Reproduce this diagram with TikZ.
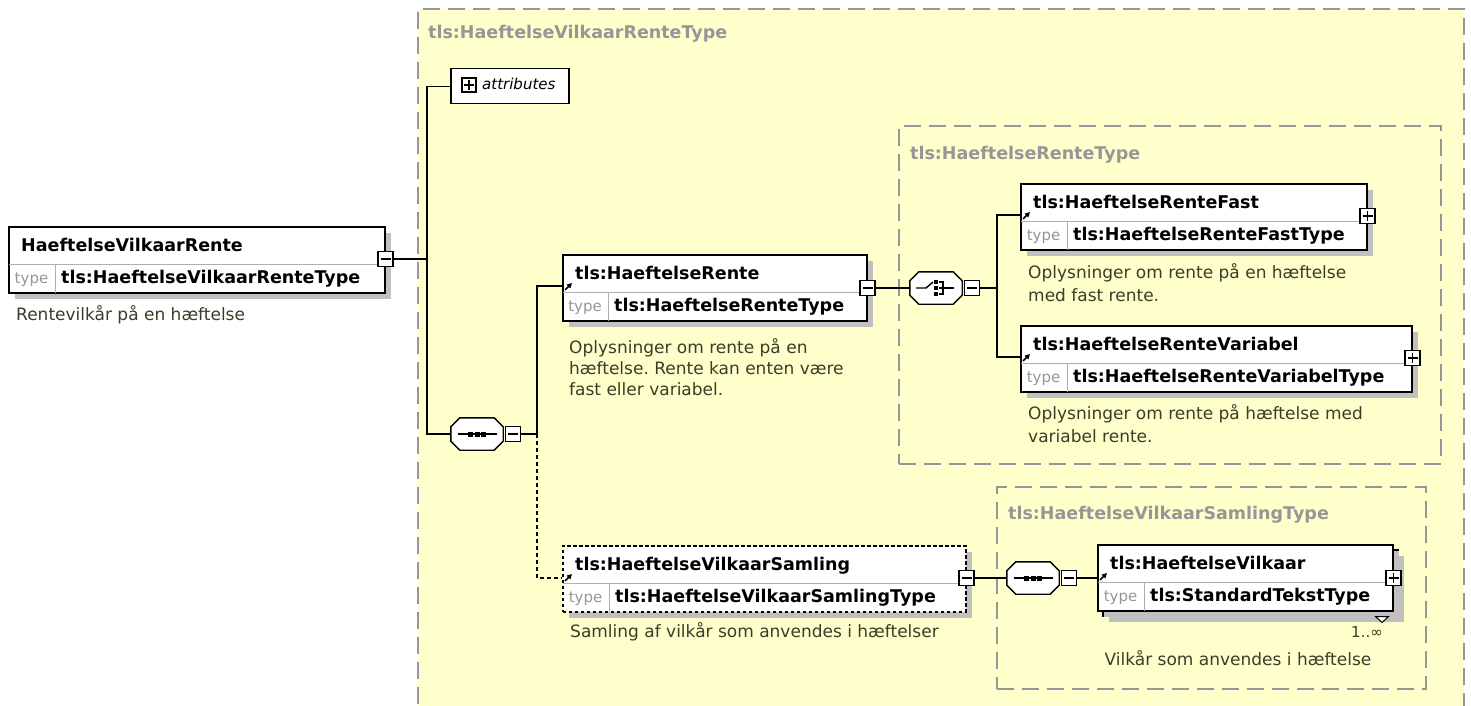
\documentclass[tikz,border=0pt]{standalone}
\usepackage{fontspec}
\setmainfont{DejaVu Sans}
\usetikzlibrary{calc,shadows,arrows.meta}
\frenchspacing
\definecolor{bgyellow}{RGB}{255,255,204}
\definecolor{grpgray}{RGB}{150,150,150}
\definecolor{desccol}{RGB}{60,60,40}
\definecolor{shadowgray}{RGB}{192,192,192}
\definecolor{divgray}{RGB}{175,175,175}
\definecolor{typegray}{RGB}{150,150,150}

\newcommand\xelem[8]{%
  \node[elem,#8,minimum width=#4pt] (#1) at (#2,#3) {};
  \draw[divline] ($(#1.north west)+(1,38)$) -- ($(#1.north east)+(-1,38)$);
  \draw[divline] ($(#1.north west)+(#5,38)$) -- ($(#1.south west)+(#5,-1)$);
  \node[titletext] (#1-title) at ($(#1.north west)+(13,25)$) {#6};
  \node[typelbl] (#1-tl) at ($(#1.north west)+(#5/2,57)$) {type};
  \node[typetext] (#1-type) at ($(#1.north west)+(#5+6,57)$) {#7};
}
\newcommand\refarrow[1]{\draw[refarr] ($(#1.north west)+(3,36)$) -- ($(#1.north west)+(10,29)$);}
\newcommand\minusbtn[2]{\node[btn] (#1) at #2 {};
  \draw[btnline] ($(#1.center)+(-5,0)$) -- ($(#1.center)+(5,0)$);}
\newcommand\plusbtn[2]{\node[btn] (#1) at #2 {};
  \draw[btnline] ($(#1.center)+(-5,0)$) -- ($(#1.center)+(5,0)$)
                 ($(#1.center)+(0,-5)$) -- ($(#1.center)+(0,5)$);}
\newcommand\octpath[1]{($(#1.north west)+(9,0)$) -- ($(#1.north east)+(-9,0)$) -- ($(#1.north east)+(0,9)$) -- ($(#1.south east)+(0,-9)$) -- ($(#1.south east)+(-9,0)$) -- ($(#1.south west)+(9,0)$) -- ($(#1.south west)+(0,-9)$) -- ($(#1.north west)+(0,9)$) -- cycle}
\newcommand\compo[3]{%
  \node[inner sep=0pt, minimum width=52pt, minimum height=32pt] (#1) at (#2,#3) {};
  \fill[shadowgray, shift={(6,6)}] \octpath{#1};
  \draw[compobord] \octpath{#1};
}
\newcommand\seqicon[1]{%
  \draw[iconline] ($(#1.center)+(-19,0)$) -- ($(#1.center)+(20,0)$);
  \fill ($(#1.center)+(-9,-2.5)$) rectangle ($(#1.center)+(-4,2.5)$);
  \fill ($(#1.center)+(-2.5,-2.5)$) rectangle ($(#1.center)+(2.5,2.5)$);
  \fill ($(#1.center)+(4,-2.5)$) rectangle ($(#1.center)+(9,2.5)$);
}
\newcommand\choiceicon[1]{%
  \draw[iconline] ($(#1.center)+(-20,0)$) -- ($(#1.center)+(-10,0)$) -- ($(#1.center)+(-3,-6)$);
  \fill ($(#1.center)+(-2,-8)$) rectangle ($(#1.center)+(2,-4)$);
  \fill ($(#1.center)+(-2,-2)$) rectangle ($(#1.center)+(2,2)$);
  \fill ($(#1.center)+(-2,4)$) rectangle ($(#1.center)+(2,8)$);
  \draw[iconline] ($(#1.center)+(3,-6)$) -- ($(#1.center)+(7,-6)$) -- ($(#1.center)+(7,6)$) -- ($(#1.center)+(3,6)$)
                  ($(#1.center)+(3,0)$) -- ($(#1.center)+(18,0)$);
}

\begin{document}
\begin{tikzpicture}[x=1pt,y=-1pt,
  elem/.style={draw=black, line width=1.5pt, fill=white, anchor=north west, inner sep=0pt,
     minimum height=66pt,
     drop shadow={shadow xshift=6pt, shadow yshift=-6pt, fill=shadowgray, opacity=1}},
  optelem/.style={dash pattern=on 3.5pt off 2.5pt},
  divline/.style={draw=divgray, line width=0.9pt},
  titletext/.style={anchor=base west, inner sep=0pt, font=\bfseries\fontsize{17.5}{20}\selectfont},
  typetext/.style={anchor=base west, inner sep=0pt, font=\bfseries\fontsize{17.5}{20}\selectfont},
  typelbl/.style={anchor=base, inner sep=0pt, text=typegray, font=\fontsize{15}{18}\selectfont},
  desc/.style={anchor=base west, inner sep=0pt, text=desccol, font=\fontsize{17}{21}\selectfont},
  refarr/.style={-{Triangle[length=5pt,width=5pt]}, line width=1.6pt},
  btn/.style={draw=black, line width=1.3pt, fill=white, minimum size=15pt, inner sep=0pt},
  btnline/.style={line width=1.3pt},
  compobord/.style={draw=black, line width=1.4pt, fill=white},
  iconline/.style={line width=1.4pt},
  conn/.style={line width=1.4pt},
  optconn/.style={line width=1.4pt, dash pattern=on 4pt off 3pt},
  grp/.style={draw=grpgray, line width=1.6pt, dash pattern=on 17pt off 8pt, anchor=north west, inner sep=0pt},
  grplbl/.style={anchor=base west, inner sep=0pt, text=grpgray, font=\bfseries\fontsize{17.5}{20}\selectfont},
]
\useasboundingbox (0,0) rectangle (1471,706);
\clip (0,0) rectangle (1471,706);
\fill[white] (0,0) rectangle (1471,706);

% outer group
\node[grp, fill=bgyellow, minimum width=1046pt, minimum height=730pt] (g0) at (417,8) {};
\node[grplbl] (g0-lbl) at (428,39) {tls:HaeftelseVilkaarRenteType};
% inner groups
\node[grp, minimum width=542pt, minimum height=338pt] (g1) at (898,125) {};
\node[grplbl] (g1-lbl) at (910,159) {tls:HaeftelseRenteType};
\node[grp, minimum width=429pt, minimum height=202pt] (g2) at (996,486) {};
\node[grplbl] (g2-lbl) at (1008,519) {tls:HaeftelseVilkaarSamlingType};

% root element
\xelem{root}{8}{226}{376}{47}{HaeftelseVilkaarRente}{tls:HaeftelseVilkaarRenteType}{}
\minusbtn{rootbtn}{($(root.north east)+(0,33)$)}
\node[desc] (root-desc) at (16,320) {Rentevilkår på en hæftelse};

% attributes
\node[draw=black, line width=1.5pt, fill=white, anchor=north west, minimum width=118pt, minimum height=35pt, inner sep=0pt] (attr) at (450,68) {};
\node[btn, minimum size=14pt] (attr-plus) at (469,85) {};
\draw[btnline] ($(attr-plus.center)+(-5,0)$) -- ($(attr-plus.center)+(5,0)$) ($(attr-plus.center)+(0,-5)$) -- ($(attr-plus.center)+(0,5)$);
\node[anchor=base west, inner sep=0pt, font=\itshape\fontsize{15}{18}\selectfont] (attr-txt) at (482,90) {attributes};

% sequence 1
\compo{seqA}{477}{434}
\seqicon{seqA}
\minusbtn{seqAbtn}{($(seqA.east)+(10,0)$)}

% HaeftelseRente
\xelem{rente}{562}{254}{304}{46}{tls:HaeftelseRente}{tls:HaeftelseRenteType}{}
\refarrow{rente}
\minusbtn{rentebtn}{($(rente.north east)+(0,34)$)}
\node[desc] (rente-d1) at (569,353) {Oplysninger om rente på en};
\node[desc] (rente-d2) at (569,374) {hæftelse. Rente kan enten være};
\node[desc] (rente-d3) at (569,395) {fast eller variabel.};

% choice
\compo{chc}{936}{288}
\choiceicon{chc}
\minusbtn{chcbtn}{($(chc.east)+(10,0)$)}

% Fast
\xelem{fast}{1020}{183}{346}{47}{tls:HaeftelseRenteFast}{tls:HaeftelseRenteFastType}{}
\refarrow{fast}
\plusbtn{fastbtn}{($(fast.north east)+(0,33)$)}
\node[desc] (fast-d1) at (1028,278) {Oplysninger om rente på en hæftelse};
\node[desc] (fast-d2) at (1028,301) {med fast rente.};

% Variabel
\xelem{var}{1020}{325}{391}{47}{tls:HaeftelseRenteVariabel}{tls:HaeftelseRenteVariabelType}{}
\refarrow{var}
\plusbtn{varbtn}{($(var.north east)+(0,33)$)}
\node[desc] (var-d1) at (1028,419) {Oplysninger om rente på hæftelse med};
\node[desc] (var-d2) at (1028,442) {variabel rente.};

% Samling (optional)
\xelem{saml}{562}{545}{403}{47}{tls:HaeftelseVilkaarSamling}{tls:HaeftelseVilkaarSamlingType}{optelem}
\refarrow{saml}
\minusbtn{samlbtn}{($(saml.north east)+(0,33)$)}
\node[desc] (saml-d) at (570,637) {Samling af vilkår som anvendes i hæftelser};

% sequence 2
\compo{seqB}{1033}{578}
\seqicon{seqB}
\minusbtn{seqBbtn}{($(seqB.east)+(10,0)$)}

% Vilkaar (repeating)
\node[elem, minimum width=295pt] (vilk-back) at (1102,549) {};
\xelem{vilk}{1097}{544}{295}{47}{tls:HaeftelseVilkaar}{tls:StandardTekstType}{drop shadow={shadow xshift=0pt, shadow yshift=0pt, fill=white, opacity=0}}
\refarrow{vilk}
\plusbtn{vilkbtn}{($(vilk.north east)+(0,34)$)}
\draw[line width=1pt, fill=white] ($(vilk-back.south east)+(-23,0)$) -- ($(vilk-back.south east)+(-10,0)$) -- ($(vilk-back.south east)+(-16.5,6)$) -- cycle;
\node[anchor=base east, inner sep=0pt, text=desccol, font=\fontsize{15}{18}\selectfont] (vilk-occ) at (1383,637) {1..∞};
\node[anchor=base, inner sep=0pt, text=desccol, font=\fontsize{17}{21}\selectfont] (vilk-d) at (1238,665) {Vilkår som anvendes i hæftelse};

% connectors
\coordinate (busA) at (427,0);
\coordinate (busB) at (537,0);
\coordinate (busC) at (997,0);
\coordinate (rente-in) at ($(rente.north west)+(0,32)$);
\coordinate (saml-in) at ($(saml.north west)+(0,33)$);
\coordinate (fast-in) at ($(fast.north west)+(0,32)$);
\coordinate (var-in) at ($(var.north west)+(0,32)$);
\coordinate (vilk-in) at ($(vilk.north west)+(0,34)$);

\draw[conn] (rootbtn.east) -- (rootbtn.east -| busA);
\draw[conn] (attr.west) -- (attr.west -| busA) -- (seqA.west -| busA) -- (seqA.west);
\draw[conn] (seqAbtn.east) -- (seqAbtn.east -| busB) -- (rente-in -| busB) -- (rente-in);
\draw[optconn] (seqAbtn.east -| busB) -- (saml-in -| busB) -- (saml-in);
\draw[conn] (rentebtn.east) -- (chc.west);
\draw[conn] (chcbtn.east) -- (chcbtn.east -| busC);
\draw[conn] (fast-in) -- (fast-in -| busC) -- (var-in -| busC) -- (var-in);
\draw[conn] (samlbtn.east) -- (seqB.west);
\draw[conn] (seqBbtn.east) -- (vilk-in);
\end{tikzpicture}
\end{document}
